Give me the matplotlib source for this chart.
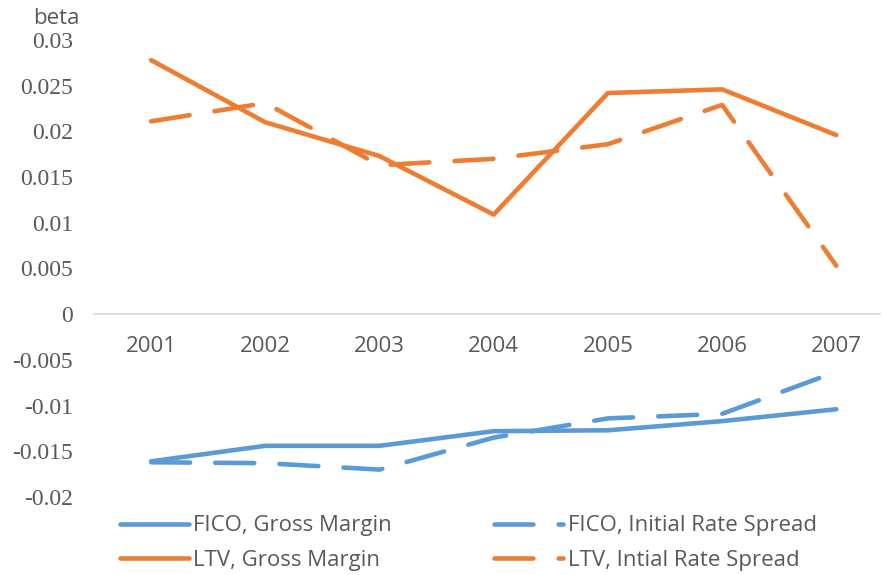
import numpy as np
import matplotlib.pyplot as plt

years = ['2001', '2002', '2003', '2004', '2005', '2006', '2007']
fico_gross_margin = [-0.0161, -0.0144, -0.0144, -0.0128, -0.0127, -0.0117, -0.0104]
fico_rate_spread = [-0.0162, -0.0163, -0.0170, -0.0135, -0.0114, -0.0109, -0.0063]
ltv_gross_margin = [0.0278, 0.0210, 0.0173, 0.0109, 0.0242, 0.0246, 0.0196]
ltv_rate_spread = [0.0211, 0.0231, 0.0163, 0.0170, 0.0186, 0.0229, 0.0053]
yticks = [-0.02, -0.015, -0.01, -0.005, 0, 0.005, 0.01, 0.015, 0.02, 0.025, 0.03]
ytick_labels = ['-0.02', '-0.015', '-0.01', '-0.005', '0', '0.005', '0.01', '0.015', '0.02', '0.025', '0.03']

BLUE = '#5B9BD5'
ORANGE = '#ED7D31'
GREY = '#595959'

fig = plt.figure(figsize=(8.82, 5.75), dpi=100)
W, H = 882, 575
ax = fig.add_axes([94 / W, (H - 497) / H, (880 - 94) / W, (497 - 40) / H])

x = np.arange(1, len(years) + 1)
lw = 3.3
dash = (8.5, 5.5)
ax.plot(x, fico_gross_margin, color=BLUE, lw=lw, solid_capstyle='round',
        solid_joinstyle='round', label='FICO, Gross Margin')
ax.plot(x, fico_rate_spread, color=BLUE, lw=lw, dashes=dash, dash_capstyle='round',
        label='FICO, Initial Rate Spread')
ax.plot(x, ltv_gross_margin, color=ORANGE, lw=lw, solid_capstyle='round',
        solid_joinstyle='round', label='LTV, Gross Margin')
ax.plot(x, ltv_rate_spread, color=ORANGE, lw=lw, dashes=dash, dash_capstyle='round',
        label='LTV, Intial Rate Spread')

ax.set_xlim(0.5, 0.5 + (880 - 94) / 114.2)
ax.set_ylim(-0.02, 0.03)

for s in ['top', 'right', 'left']:
    ax.spines[s].set_visible(False)
ax.spines['bottom'].set_position(('data', 0))
ax.spines['bottom'].set_color('#d9d9d9')
ax.spines['bottom'].set_linewidth(1.2)

ax.set_xticks(x)
ax.set_xticklabels(years, fontfamily='Open Sans', fontsize=16, color=GREY)
ax.tick_params(axis='x', length=0, pad=16)
ax.set_yticks(yticks)
ax.set_yticklabels(ytick_labels, fontfamily='Liberation Serif', fontsize=17, color=GREY)
ax.tick_params(axis='y', length=0, pad=15)

fig.text(33 / W, 1 - 18 / H, 'beta', fontfamily='Open Sans', fontsize=16,
         color=GREY, va='center', ha='left')

handles, labels = ax.get_legend_handles_labels()
order = [0, 2, 1, 3]
leg = fig.legend([handles[i] for i in order], [labels[i] for i in order],
                 ncol=2, loc='center left', bbox_to_anchor=(100 / W, 1 - 543 / H),
                 frameon=False, handlelength=3.1, handletextpad=0.2,
                 columnspacing=4.6, labelspacing=0.6,
                 prop={'family': 'Open Sans', 'size': 16})
for t in leg.get_texts():
    t.set_color(GREY)

fig.savefig('out.png', dpi=100)
